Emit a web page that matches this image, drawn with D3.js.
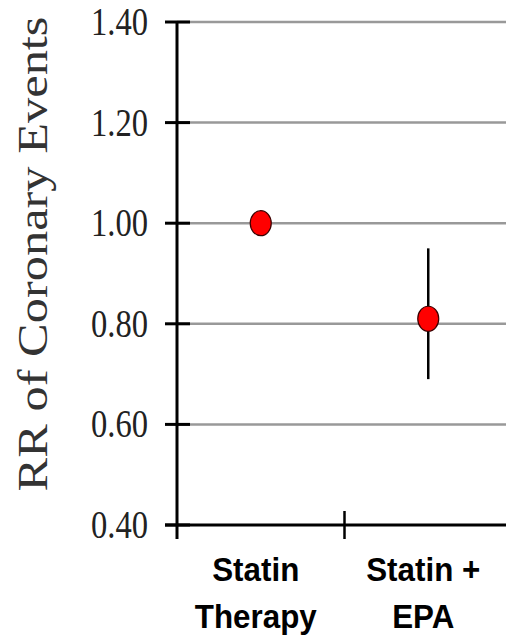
<!DOCTYPE html>
<html>
<head>
<meta charset="utf-8">
<script src="https://cdn.jsdelivr.net/npm/d3@7"></script>
<style>
  html, body { margin: 0; padding: 0; background: #fff; }
  svg { display: block; }
</style>
</head>
<body>
<svg id="chart" width="506" height="637"></svg>
<script>
// Relative risk of coronary events with 95% confidence interval
const groups = [["Statin", "Therapy"], ["Statin +", "EPA"]];
const rr = [1.00, 0.81];
const ciLow = [null, 0.69];
const ciHigh = [null, 0.95];
const yTicks = [0.40, 0.60, 0.80, 1.00, 1.20, 1.40];
const yTitle = "RR of Coronary Events";

const svg = d3.select("#chart");

const x = d3.scaleBand().domain(d3.range(groups.length)).range([177, 512]).padding(0);
const y = d3.scaleLinear().domain([0.4, 1.4]).range([525, 22]);
const cx = i => x(i) + x.bandwidth() / 2;

// horizontal gridlines
svg.append("g").selectAll("line").data(yTicks.slice(1)).join("line")
  .attr("x1", 177).attr("x2", 512)
  .attr("y1", d => y(d)).attr("y2", d => y(d))
  .attr("stroke", "#999").attr("stroke-width", 2.5);

// y axis line with ticks crossing it
svg.append("line").attr("x1", 177).attr("x2", 177)
  .attr("y1", y(1.4) - 1).attr("y2", 539)
  .attr("stroke", "#000").attr("stroke-width", 3);
svg.append("g").selectAll("line").data(yTicks).join("line")
  .attr("x1", 165).attr("x2", 190)
  .attr("y1", d => y(d)).attr("y2", d => y(d))
  .attr("stroke", "#000").attr("stroke-width", 3);

// y tick labels (tall serif digits)
svg.append("g").selectAll("text").data(yTicks).join("text")
  .attr("x", 148).attr("y", d => y(d) + 13)
  .attr("text-anchor", "end")
  .attr("font-family", "'Liberation Serif', 'Times New Roman', serif")
  .attr("font-size", 40)
  .attr("textLength", 57).attr("lengthAdjust", "spacingAndGlyphs")
  .attr("fill", "#222")
  .text(d => d3.format(".2f")(d));

// y axis title
svg.append("text")
  .attr("transform", "translate(47,254) rotate(-90)")
  .attr("text-anchor", "middle")
  .attr("font-family", "'Liberation Serif', 'Times New Roman', serif")
  .attr("font-size", 42)
  .attr("textLength", 475).attr("lengthAdjust", "spacingAndGlyphs")
  .attr("fill", "#333")
  .text(yTitle);

// x axis line and category separators
svg.append("line").attr("x1", 165).attr("x2", 512)
  .attr("y1", y(0.4)).attr("y2", y(0.4))
  .attr("stroke", "#000").attr("stroke-width", 3);
svg.append("g").selectAll("line").data(d3.range(1, groups.length + 1)).join("line")
  .attr("x1", d => d < groups.length ? x(d) : x.range()[1])
  .attr("x2", d => d < groups.length ? x(d) : x.range()[1])
  .attr("y1", y(0.4) - 14).attr("y2", y(0.4) + 14)
  .attr("stroke", "#000").attr("stroke-width", 2.5);

// category labels, two lines each
const labelLines = groups.flatMap((lines, i) => lines.map((t, j) => ({ t, i, j })));
svg.append("g").selectAll("text").data(labelLines).join("text")
  .attr("transform", d => `translate(${cx(d.i) - 5},${580.5 + d.j * 47}) scale(0.95,1)`)
  .attr("text-anchor", "middle")
  .attr("font-family", "'Liberation Sans', Arial, sans-serif")
  .attr("font-weight", "bold")
  .attr("font-size", 33)
  .attr("fill", "#000")
  .text(d => d.t);

// confidence interval whiskers
svg.append("g").selectAll("line").data(rr.map((v, i) => i).filter(i => ciLow[i] != null)).join("line")
  .attr("x1", cx).attr("x2", cx)
  .attr("y1", i => y(ciHigh[i])).attr("y2", i => y(ciLow[i]))
  .attr("stroke", "#000").attr("stroke-width", 2.5);

// point estimates
svg.append("g").selectAll("ellipse").data(rr).join("ellipse")
  .attr("cx", (d, i) => cx(i)).attr("cy", d => y(d))
  .attr("rx", 10.5).attr("ry", 12.5)
  .attr("fill", "#ff0000").attr("stroke", "#3a0000").attr("stroke-width", 1.2);
</script>
</body>
</html>
